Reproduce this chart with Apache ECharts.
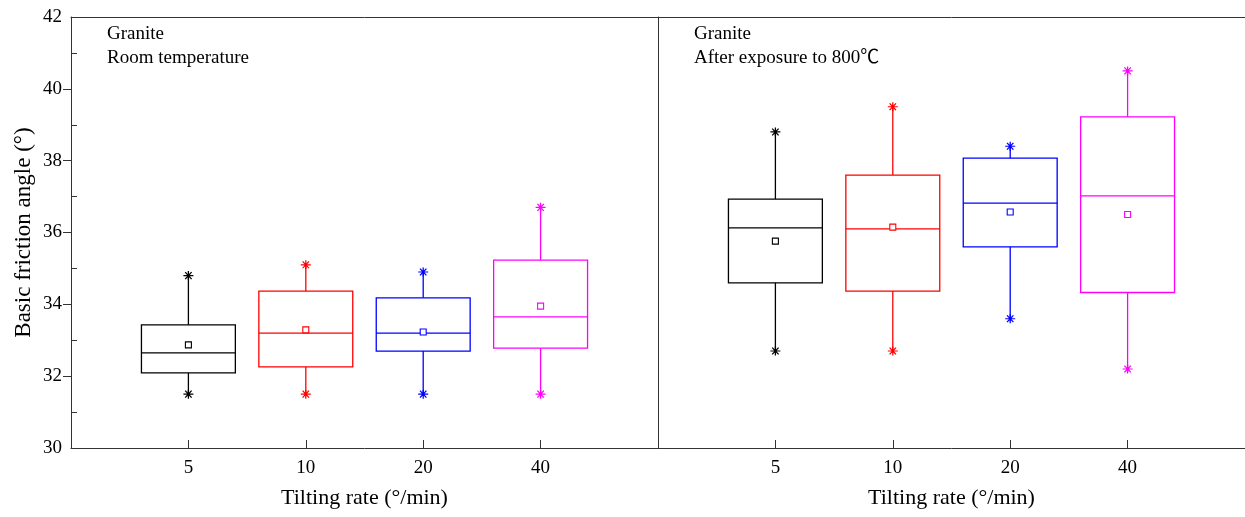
<!DOCTYPE html>
<html>
<head>
<meta charset="utf-8">
<script src="https://cdn.jsdelivr.net/npm/echarts@6/dist/echarts.min.js"></script>
<style>html,body{margin:0;padding:0;background:#fff}#c{width:1245px;height:517px}</style>
</head>
<body>
<div id="c"></div>
<script>
// ---- data ----
const categories = ['5', '10', '20', '40'];
const colors = ['#000000', '#ff0000', '#0000ff', '#ff00ff'];
const yTicks = [30, 32, 34, 36, 38, 40, 42];

const roomMin    = [31.5, 31.5, 31.5, 31.5];
const roomQ1     = [32.09, 32.26, 32.7, 32.78];
const roomMedian = [32.65, 33.2, 33.2, 33.65];
const roomQ3     = [33.43, 34.37, 34.18, 35.23];
const roomMax    = [34.8, 35.1, 34.9, 36.7];
const roomMean   = [32.87, 33.29, 33.23, 33.95];

const hotMin    = [32.7, 32.7, 33.6, 32.2];
const hotQ1     = [34.6, 34.37, 35.6, 34.33];
const hotMedian = [36.13, 36.1, 36.82, 37.02];
const hotQ3     = [36.93, 37.6, 38.07, 39.22];
const hotMax    = [38.8, 39.5, 38.4, 40.5];
const hotMean   = [35.76, 36.15, 36.57, 36.5];

const panelTitles = [['Granite', 'Room temperature'], ['Granite', 'After exposure to 800\u2103']];
const xName = 'Tilting rate (\u00b0/min)';
const yName = 'Basic friction angle (\u00b0)';

// ---- build ----
const FONT = '"Liberation Serif", "DejaVu Serif", serif';
const TFONT = '"Liberation Serif", "Noto Sans CJK SC", "DejaVu Serif", serif';
const AX = '#333';
const STAR = 'path://M0,5L10,5M1.8,1.2L8.2,8.8M1.8,8.8L8.2,1.2M5,0L5,10';

function boxData(mn, q1, md, q3, mx) {
  return categories.map((c, i) => [i + 1, mn[i], q1[i], md[i], q3[i], mx[i]]);
}
function starData(mn, mx) {
  const out = [];
  categories.forEach((c, i) => {
    out.push({ value: [i + 1, mn[i]], itemStyle: { borderColor: colors[i] } });
    out.push({ value: [i + 1, mx[i]], itemStyle: { borderColor: colors[i] } });
  });
  return out;
}
function meanData(mean) {
  return categories.map((c, i) => ({ value: [i + 1, mean[i]], itemStyle: { borderColor: colors[i] } }));
}
function renderBox(params, api) {
  const x = api.value(0);
  const pMin = api.coord([x, api.value(1)]);
  const pQ1 = api.coord([x, api.value(2)]);
  const pMed = api.coord([x, api.value(3)]);
  const pQ3 = api.coord([x, api.value(4)]);
  const pMax = api.coord([x, api.value(5)]);
  const w = api.size([1, 0])[0] * 0.8;
  const col = colors[params.dataIndex];
  const st = { stroke: col, lineWidth: 1.3, fill: null };
  const cx = pMed[0];
  return {
    type: 'group',
    children: [
      { type: 'rect', shape: { x: cx - w / 2, y: pQ3[1], width: w, height: pQ1[1] - pQ3[1] }, style: { stroke: col, lineWidth: 1.3, fill: 'transparent' } },
      { type: 'line', shape: { x1: cx - w / 2, y1: pMed[1], x2: cx + w / 2, y2: pMed[1] }, style: st },
      { type: 'line', shape: { x1: cx, y1: pQ3[1], x2: cx, y2: pMax[1] }, style: st },
      { type: 'line', shape: { x1: cx, y1: pQ1[1], x2: cx, y2: pMin[1] }, style: st }
    ]
  };
}

const grids = [
  { left: 71, top: 17, width: 587, height: 431, outerBoundsMode: 'none', containLabel: false },
  { left: 658, top: 17, width: 587, height: 431, outerBoundsMode: 'none', containLabel: false }
];

const xAxes = [];
const yAxes = [];
[0, 1].forEach(g => {
  xAxes.push({
    type: 'value', gridIndex: g, min: 0, max: 5, interval: 1, position: 'bottom',
    axisLine: { show: true, lineStyle: { color: AX, width: 1 } },
    axisTick: { show: true, inside: true, length: 8, customValues: g === 0 ? [1, 2, 3, 4, 5] : [0, 1, 2, 3, 4], lineStyle: { color: AX } },
    axisLabel: { color: '#000', fontFamily: FONT, fontSize: 19, margin: 11,
      formatter: v => (v >= 1 && v <= 4 ? categories[v - 1] : '') },
    splitLine: { show: false },
    name: xName, nameLocation: 'middle', nameGap: 39,
    nameTextStyle: { color: '#000', fontFamily: FONT, fontSize: 22 }
  });
  xAxes.push({
    type: 'value', gridIndex: g, min: 0, max: 5, position: 'top',
    axisLine: { show: true, lineStyle: { color: AX, width: 1 } },
    axisTick: { show: false }, axisLabel: { show: false }, splitLine: { show: false }
  });
});
// left main y axis
yAxes.push({
  type: 'value', gridIndex: 0, min: 30, max: 42, interval: 2, position: 'left',
  axisLine: { show: true, lineStyle: { color: AX, width: 1 } },
  axisTick: { show: true, inside: false, length: 8, customValues: [32, 34, 36, 38, 40], lineStyle: { color: AX } },
  axisLabel: { color: '#000', fontFamily: FONT, fontSize: 19, margin: 9, customValues: yTicks },
  splitLine: { show: false },
  name: yName, nameLocation: 'middle', nameGap: 36,
  nameTextStyle: { color: '#000', fontFamily: FONT, fontSize: 23 }
});
// left minor inside ticks
yAxes.push({
  type: 'value', gridIndex: 0, min: 30, max: 42, interval: 1, position: 'left',
  axisLine: { show: false },
  axisTick: { show: true, inside: true, length: 6, customValues: [31, 33, 35, 37, 39, 41], lineStyle: { color: AX } },
  axisLabel: { show: false }, splitLine: { show: false }
});
// right panel y axis (divider line only)
yAxes.push({
  type: 'value', gridIndex: 1, min: 30, max: 42, interval: 2, position: 'left',
  axisLine: { show: true, lineStyle: { color: AX, width: 1 } },
  axisTick: { show: false }, axisLabel: { show: false }, splitLine: { show: false }
});

const sets = [
  { box: boxData(roomMin, roomQ1, roomMedian, roomQ3, roomMax), stars: starData(roomMin, roomMax), mean: meanData(roomMean) },
  { box: boxData(hotMin, hotQ1, hotMedian, hotQ3, hotMax), stars: starData(hotMin, hotMax), mean: meanData(hotMean) }
];
const yIdx = [0, 2];
const series = [];
sets.forEach((s, g) => {
  series.push({ type: 'custom', xAxisIndex: g * 2, yAxisIndex: yIdx[g], renderItem: renderBox, data: s.box, silent: true, clip: false });
  series.push({ type: 'scatter', xAxisIndex: g * 2, yAxisIndex: yIdx[g], symbol: STAR, symbolSize: [10, 9], data: s.stars,
    itemStyle: { color: 'transparent', borderWidth: 1.2, opacity: 1 }, silent: true, z: 5 });
  series.push({ type: 'scatter', xAxisIndex: g * 2, yAxisIndex: yIdx[g], symbol: 'rect', symbolSize: 6, data: s.mean,
    itemStyle: { color: '#fff', borderWidth: 1.1, opacity: 1 }, silent: true, z: 6 });
});

const graphics = [];
[[107, 0], [694, 1]].forEach(([x, p]) => {
  graphics.push({ type: 'text', left: x, top: 25, style: { text: panelTitles[p][0], font: '19px ' + TFONT, fill: '#000' } });
  graphics.push({ type: 'text', left: x, top: 49, style: { text: panelTitles[p][1], font: '19px ' + TFONT, fill: '#000' } });
});

const chart = echarts.init(document.getElementById('c'), null, { renderer: 'canvas' });
chart.setOption({
  animation: false,
  backgroundColor: '#fff',
  grid: grids,
  xAxis: xAxes,
  yAxis: yAxes,
  series: series,
  graphic: graphics
});
</script>
</body>
</html>
